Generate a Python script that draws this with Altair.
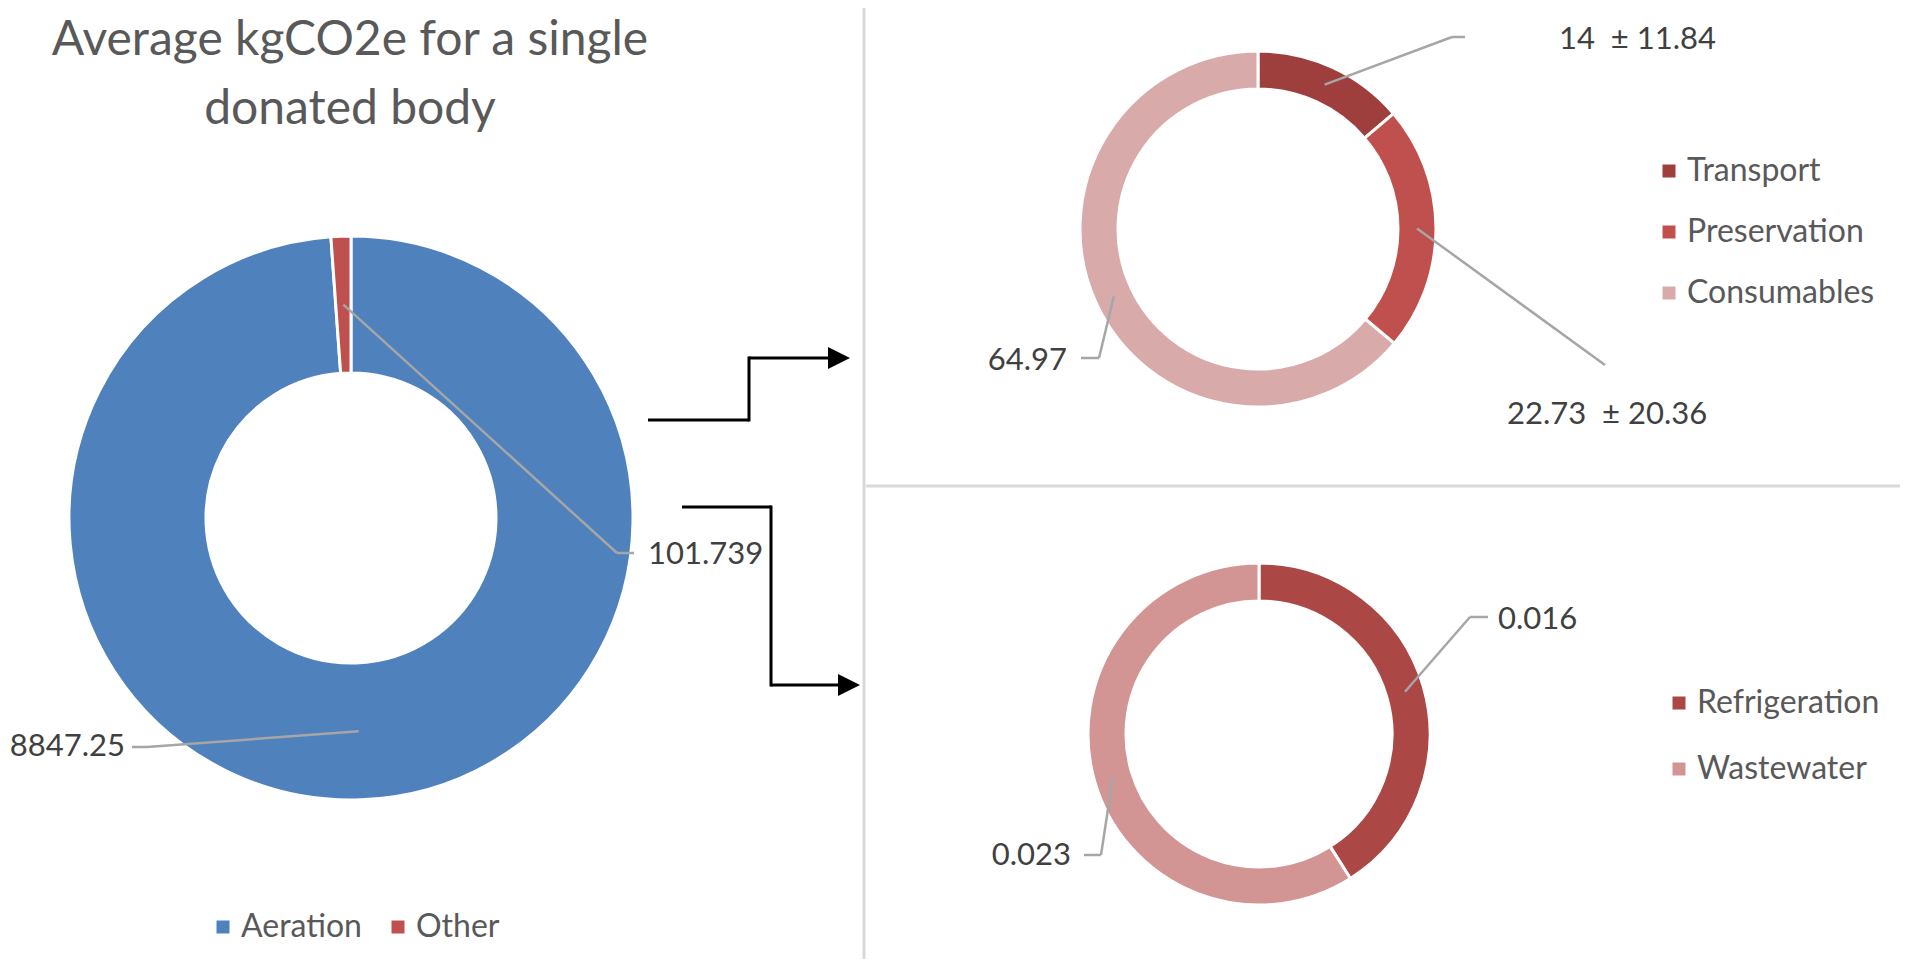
import math
import altair as alt
import pandas as pd

# ---------------- data ----------------
TITLE_LINES = ["Average kgCO2e for a single", "donated body"]

main_categories = ["Aeration", "Other"]
main_values = [8847.25, 101.739]
main_labels = ["8847.25", "101.739"]
main_colors = ["#4F81BD", "#C0504D"]

sub1_categories = ["Transport", "Preservation", "Consumables"]
sub1_values = [14, 22.73, 64.97]
sub1_labels = ["14\u00a0 \u00b1 11.84", "22.73\u00a0 \u00b1 20.36", "64.97"]
sub1_colors = ["#9E3F3D", "#C0504D", "#D9AAAA"]

sub2_categories = ["Refrigeration", "Wastewater"]
sub2_values = [0.016, 0.023]
sub2_labels = ["0.016", "0.023"]
sub2_colors = ["#AB4745", "#D39494"]

# ---------------- layout (page pixels) ----------------
OFF = 8
W, H = 1892, 951
FONT = "Lato"
LABEL_SIZE = 31
LEGEND_SIZE = 32

DONUTS = [
    dict(cx=351, cy=518, R=282, r=145),
    dict(cx=1258, cy=229, R=178, r=140),
    dict(cx=1259, cy=734, R=171, r=133),
]

# label text anchor, leader elbow, leader end
LABEL_LAYOUT = {
    "Aeration": dict(tx=125, ty=747, align="right", ex=147, ey=747, fx=132, fy=747),
    "Other": dict(tx=648, ty=555, align="left", ex=617, ey=553, fx=634, fy=553),
    "Transport": dict(tx=1559, ty=40, align="left", ex=1452, ey=37, fx=1465, fy=37),
    "Preservation": dict(tx=1507, ty=415, align="left", ex=1605, ey=365, fx=1605, fy=365),
    "Consumables": dict(tx=1067, ty=361, align="right", ex=1099, ey=358, fx=1081, fy=358),
    "Refrigeration": dict(tx=1498, ty=620, align="left", ex=1470, ey=617, fx=1488, fy=617),
    "Wastewater": dict(tx=1071, ty=856, align="right", ex=1101, ey=855, fx=1084, fy=855),
}

LEGENDS = [
    dict(x=207, y=911, direction="horizontal", rowPadding=0, columnPadding=20),
    dict(x=1653, y=155, direction="vertical", rowPadding=29, columnPadding=0),
    dict(x=1663, y=687, direction="vertical", rowPadding=34, columnPadding=0),
]

groups = [
    (main_categories, main_values, main_labels, main_colors),
    (sub1_categories, sub1_values, sub1_labels, sub1_colors),
    (sub2_categories, sub2_values, sub2_labels, sub2_colors),
]

layers = []
label_rows = []
leader_rows = []

for gi, (cats, vals, labs, cols) in enumerate(groups):
    d = DONUTS[gi]
    df = pd.DataFrame({"category": cats, "value": vals, "idx": list(range(len(cats)))})
    lg = LEGENDS[gi]
    arc = (
        alt.Chart(df)
        .mark_arc(radius=d["R"], radius2=d["r"], stroke="white", strokeWidth=3)
        .encode(
            x=alt.value(d["cx"] - OFF),
            y=alt.value(d["cy"] - OFF),
            theta=alt.Theta("value:Q", stack=True),
            order=alt.Order("idx:Q"),
            color=alt.Color(
                "category:N",
                sort=cats,
                scale=alt.Scale(domain=cats, range=cols),
                legend=alt.Legend(
                    orient="none",
                    legendX=lg["x"] - OFF,
                    legendY=lg["y"] - OFF,
                    direction=lg["direction"],
                    title=None,
                    symbolType="square",
                    symbolSize=169,
                    symbolStrokeWidth=0,
                    labelFont=FONT,
                    labelFontSize=LEGEND_SIZE,
                    labelColor="#595959",
                    labelOffset=2,
                    labelLimit=500,
                    rowPadding=lg["rowPadding"],
                    columnPadding=lg["columnPadding"],
                    padding=0,
                ),
            ),
        )
    )
    layers.append(arc)

    total = float(sum(vals))
    cum = 0.0
    rm = (d["R"] + d["r"]) / 2.0
    for c, v, t in zip(cats, vals, labs):
        mid = (cum + v / 2.0) / total * 2 * math.pi
        cum += v
        sx = d["cx"] + rm * math.sin(mid)
        sy = d["cy"] - rm * math.cos(mid)
        L = LABEL_LAYOUT[c]
        leader_rows.append(dict(x=sx - OFF, y=sy - OFF, x2=L["ex"] - OFF, y2=L["ey"] - OFF))
        leader_rows.append(dict(x=L["ex"] - OFF, y=L["ey"] - OFF, x2=L["fx"] - OFF, y2=L["fy"] - OFF))
        label_rows.append(dict(text=t, x=L["tx"] - OFF, y=L["ty"] - OFF, align=L["align"]))

leaders = pd.DataFrame(leader_rows)
labels = pd.DataFrame(label_rows)

X = lambda f: alt.X(f, scale=None, axis=None)
Y = lambda f: alt.Y(f, scale=None, axis=None)

leader_layer = alt.Chart(leaders).mark_rule(color="#A6A6A6", strokeWidth=2.5).encode(
    x=X("x:Q"), y=Y("y:Q"), x2="x2:Q", y2="y2:Q"
)
layers.append(leader_layer)

for al in ["left", "right"]:
    layers.append(
        alt.Chart(labels[labels["align"] == al])
        .mark_text(align=al, baseline="middle", font=FONT, fontSize=LABEL_SIZE, color="#404040")
        .encode(x=X("x:Q"), y=Y("y:Q"), text="text:N")
    )

# dividers
dividers = pd.DataFrame(
    {"x": [864 - OFF, 866 - OFF], "y": [0, 486 - OFF], "x2": [864 - OFF, W], "y2": [H, 486 - OFF]}
)
layers.append(
    alt.Chart(dividers).mark_rule(color="#D9D9D9", strokeWidth=3).encode(
        x=X("x:Q"), y=Y("y:Q"), x2="x2:Q", y2="y2:Q"
    )
)

# arrows (connectors)
arrow_segs = pd.DataFrame(
    [
        dict(x=648, y=420, x2=749, y2=420),
        dict(x=749, y=421.5, x2=749, y2=356.5),
        dict(x=749, y=358, x2=832, y2=358),
        dict(x=682, y=507, x2=771, y2=507),
        dict(x=771, y=505.5, x2=771, y2=686.5),
        dict(x=771, y=685, x2=842, y2=685),
    ]
)
for col in arrow_segs.columns:
    arrow_segs[col] = arrow_segs[col] - OFF
layers.append(
    alt.Chart(arrow_segs).mark_rule(color="black", strokeWidth=3).encode(
        x=X("x:Q"), y=Y("y:Q"), x2="x2:Q", y2="y2:Q"
    )
)
heads = pd.DataFrame({"x": [839 - OFF, 849 - OFF], "y": [358 - OFF, 685 - OFF]})
layers.append(
    alt.Chart(heads)
    .mark_point(shape="M-1,-1L1,0L-1,1Z", filled=True, color="black", opacity=1, size=484, strokeWidth=0)
    .encode(x=X("x:Q"), y=Y("y:Q"))
)

# title
title_df = pd.DataFrame({"x": [350 - OFF], "y": [55 - OFF]})
layers.append(
    alt.Chart(title_df)
    .mark_text(
        text=TITLE_LINES, align="center", baseline="alphabetic", font=FONT,
        fontSize=48, fontWeight=400, lineHeight=69, color="#595959"
    )
    .encode(x=X("x:Q"), y=Y("y:Q"))
)

chart = (
    alt.layer(*layers)
    .resolve_scale(theta="independent", color="independent")
    .properties(width=W, height=H, padding=0, autosize="none", background="white")
    .configure_view(stroke=None)
)

chart.save("out.html", embed_options={"renderer": "svg", "actions": False})
